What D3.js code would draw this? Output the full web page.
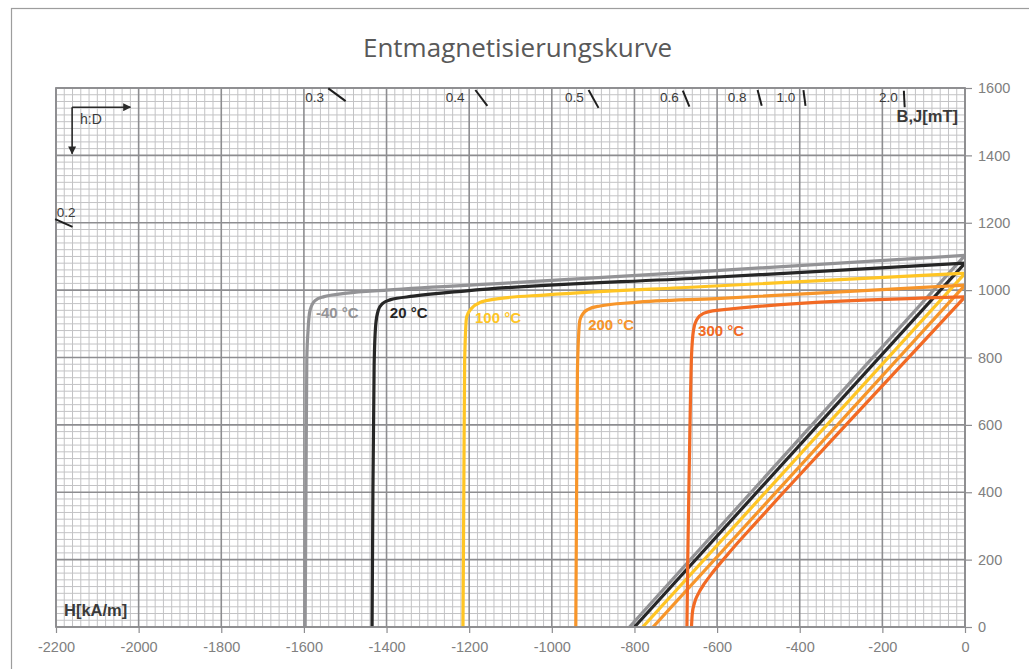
<!DOCTYPE html>
<html>
<head>
<meta charset="utf-8">
<script src="https://cdn.jsdelivr.net/npm/d3@7"></script>
<style>
  html, body { margin: 0; padding: 0; background: #fff; }
  svg { display: block; }
</style>
</head>
<body>
<div id="chart"></div>
<script>
// Temperatures (series)
const temps = ['-40 °C', '20 °C', '100 °C', '200 °C', '300 °C'];

// J-curves, [H kA/m, J mT]
const jM40 = [[-1597, 0], [-1595, 400], [-1593, 793], [-1590, 880], [-1585, 941], [-1573, 969], [-1553, 980], [-1496, 991], [-1400, 1000], [-1093, 1022], [-641, 1055], [0, 1103]];
const j20 = [[-1435, 0], [-1433, 400], [-1430, 780], [-1426, 900], [-1420, 940], [-1410, 960], [-1392, 971], [-1335, 982], [-1206, 998], [-641, 1036], [0, 1080]];
const j100 = [[-1215, 0], [-1213, 400], [-1211, 790], [-1206, 921], [-1194, 946], [-1174, 963], [-1133, 974], [-1012, 986], [-641, 1010], [0, 1050]];
const j200 = [[-942, 0], [-940, 400], [-938, 763], [-932, 911], [-924, 931], [-912, 943], [-883, 953], [-803, 963], [-601, 975], [0, 1015]];
const j300 = [[-673, 0], [-671, 200], [-667, 500], [-662, 802], [-657, 882], [-649, 913], [-633, 931], [-601, 940], [0, 980]];

// B-curves, [H kA/m, B mT]
const bM40 = [[-812, 0], [0, 1103]];
const b20 = [[-800, 0], [0, 1080]];
const b100 = [[-780, 0], [0, 1050]];
const b200 = [[-755, 0], [0, 1015]];
const b300 = [[-662, 0], [-660, 40], [-655, 70], [-645, 100], [-630, 130], [-612, 160], [-585, 200], [-550, 250], [-513, 300], [-439, 400], [-288, 600], [0, 980]];

// temperature label anchors [H, B]
const labelH = [-1571, -1392, -1186, -912, -646];
const labelB = [917, 917, 902, 882, 864];

// permeance marks: label, label anchor [H, B], segment [[H, B], [H, B]]
const permLabels = ['0.2', '0.3', '0.4', '0.5', '0.6', '0.8', '1.0', '2.0'];
const permLabelPos = [[-2198, 1217], [-1597, 1558], [-1257, 1558], [-968, 1558], [-738, 1558], [-574, 1558], [-456, 1558], [-208, 1558]];
const permSegs = [
  [[-2202, 1211], [-2160, 1188]],
  [[-1541, 1599], [-1499, 1561]],
  [[-1185, 1594], [-1156, 1547]],
  [[-911, 1594], [-887, 1541]],
  [[-683, 1592], [-667, 1545]],
  [[-502, 1594], [-492, 1547]],
  [[-391, 1594], [-386, 1547]],
  [[-148, 1592], [-146, 1543]]
];

// axis ticks
const hTicks = d3.range(-2200, 1, 200);
const bTicks = d3.range(0, 1601, 200);

const jCurves = [jM40, j20, j100, j200, j300];
const bCurves = [bM40, b20, b100, b200, b300];
const colors = ['#939396', '#262626', '#ffc524', '#f7952a', '#f26a24'];

const width = 1029, height = 669;
const mLeft = 56, mRight = 965, mTop = 88, mBottom = 627;

const svg = d3.select('#chart')
  .append('svg')
  .attr('width', width)
  .attr('height', height);

// outer frame
svg.append('rect')
  .attr('x', 11.5).attr('y', 8.5)
  .attr('width', 1100).attr('height', 700)
  .attr('fill', 'none')
  .attr('stroke', '#9d9d9d')
  .attr('stroke-width', 1.2);

const x = d3.scaleLinear().domain([-2200, 0]).range([mLeft, mRight]);
const y = d3.scaleLinear().domain([0, 1600]).range([mBottom, mTop]);

// title
svg.append('text')
  .attr('x', (mLeft + mRight) / 2 + 7)
  .attr('y', 57)
  .attr('text-anchor', 'middle')
  .attr('font-family', '"Open Sans", sans-serif')
  .attr('font-size', 26)
  .attr('fill', '#595959')
  .text('Entmagnetisierungskurve');

// grid
const grid = svg.append('g');
grid.append('g').selectAll('line')
  .data(d3.range(-2200, 1, 20).filter(v => v % 200 !== 0))
  .join('line')
  .attr('x1', d => x(d)).attr('x2', d => x(d))
  .attr('y1', mTop).attr('y2', mBottom)
  .attr('stroke', '#c3c3c5').attr('stroke-width', 1);
grid.append('g').selectAll('line')
  .data(d3.range(0, 1601, 20).filter(v => v % 200 !== 0))
  .join('line')
  .attr('y1', d => y(d)).attr('y2', d => y(d))
  .attr('x1', mLeft).attr('x2', mRight)
  .attr('stroke', '#c3c3c5').attr('stroke-width', 1);
grid.append('g').selectAll('line')
  .data(hTicks)
  .join('line')
  .attr('x1', d => x(d)).attr('x2', d => x(d))
  .attr('y1', mTop).attr('y2', mBottom)
  .attr('stroke', '#8d8d90').attr('stroke-width', 1.6);
grid.append('g').selectAll('line')
  .data(bTicks)
  .join('line')
  .attr('y1', d => y(d)).attr('y2', d => y(d))
  .attr('x1', mLeft).attr('x2', mRight)
  .attr('stroke', '#8d8d90').attr('stroke-width', 1.6);

// axes
const xAxis = svg.append('g')
  .attr('transform', `translate(0,${mBottom})`)
  .call(d3.axisBottom(x).tickValues(hTicks).tickSize(6).tickPadding(9).tickFormat(d => String(d)));
const yAxis = svg.append('g')
  .attr('transform', `translate(${mRight},0)`)
  .call(d3.axisRight(y).tickValues(bTicks).tickSize(7).tickPadding(6).tickFormat(d => String(d)));
[xAxis, yAxis].forEach(a => {
  a.select('.domain').remove();
  a.selectAll('line').attr('stroke', '#8d8d90').attr('stroke-width', 1.2);
  a.selectAll('text')
    .attr('fill', '#808080')
    .attr('font-family', '"Liberation Sans", Arial, sans-serif')
    .attr('font-size', 14.5);
});

// clip to plot
svg.append('clipPath').attr('id', 'plot')
  .append('rect')
  .attr('x', mLeft).attr('y', mTop)
  .attr('width', mRight - mLeft).attr('height', mBottom - mTop);

const line = d3.line()
  .x(d => x(d[0]))
  .y(d => y(d[1]))
  .curve(d3.curveMonotoneX);

const curves = svg.append('g').attr('clip-path', 'url(#plot)');
d3.range(temps.length).reverse().forEach(i => {
  curves.append('path')
    .datum(bCurves[i])
    .attr('d', line)
    .attr('fill', 'none')
    .attr('stroke', colors[i])
    .attr('stroke-width', 3.2);
});
d3.range(temps.length).reverse().forEach(i => {
  curves.append('path')
    .datum(jCurves[i])
    .attr('d', line)
    .attr('fill', 'none')
    .attr('stroke', colors[i])
    .attr('stroke-width', 3.2);
});

// plot border
svg.append('rect')
  .attr('x', mLeft).attr('y', mTop)
  .attr('width', mRight - mLeft).attr('height', mBottom - mTop)
  .attr('fill', 'none')
  .attr('stroke', '#8d8d90')
  .attr('stroke-width', 1.8);

// temperature labels
svg.append('g').selectAll('text')
  .data(temps)
  .join('text')
  .attr('x', (d, i) => x(labelH[i]))
  .attr('y', (d, i) => y(labelB[i]))
  .attr('font-family', '"Liberation Sans", Arial, sans-serif')
  .attr('font-weight', 'bold')
  .attr('font-size', 15)
  .attr('fill', (d, i) => colors[i])
  .text(d => d);

// permeance marks
const perm = svg.append('g');
perm.selectAll('line')
  .data(permSegs)
  .join('line')
  .attr('x1', d => x(d[0][0])).attr('y1', d => y(d[0][1]))
  .attr('x2', d => x(d[1][0])).attr('y2', d => y(d[1][1]))
  .attr('stroke', '#1e1e1e')
  .attr('stroke-width', 2);
perm.selectAll('text')
  .data(permLabels)
  .join('text')
  .attr('x', (d, i) => x(permLabelPos[i][0]))
  .attr('y', (d, i) => y(permLabelPos[i][1]))
  .attr('font-family', '"Liberation Sans", Arial, sans-serif')
  .attr('font-size', 13.5)
  .attr('fill', '#3a3a3a')
  .text(d => d);

// axis titles
svg.append('text')
  .attr('x', mRight - 7).attr('y', y(1500))
  .attr('text-anchor', 'end')
  .attr('font-family', '"Liberation Sans", Arial, sans-serif')
  .attr('font-weight', 'bold')
  .attr('font-size', 16.5)
  .attr('fill', '#3a3a3a')
  .text('B,J[mT]');
svg.append('text')
  .attr('x', mLeft + 8).attr('y', y(33))
  .attr('font-family', '"Liberation Sans", Arial, sans-serif')
  .attr('font-weight', 'bold')
  .attr('font-size', 16.5)
  .attr('fill', '#3a3a3a')
  .text('H[kA/m]');

// h:D arrows
const defs = svg.append('defs');
defs.append('marker')
  .attr('id', 'arr')
  .attr('viewBox', '0 0 10 10')
  .attr('refX', 9).attr('refY', 5)
  .attr('markerWidth', 5).attr('markerHeight', 5)
  .attr('markerUnits', 'strokeWidth')
  .attr('orient', 'auto')
  .append('path')
  .attr('d', 'M0,0 L10,5 L0,10 z')
  .attr('fill', '#2a2a2a');
const hx = x(-2161), hy = y(1543);
svg.append('line')
  .attr('x1', hx).attr('y1', hy).attr('x2', x(-2020)).attr('y2', hy)
  .attr('stroke', '#2a2a2a').attr('stroke-width', 1.6)
  .attr('marker-end', 'url(#arr)');
svg.append('line')
  .attr('x1', hx).attr('y1', hy).attr('x2', hx).attr('y2', y(1405))
  .attr('stroke', '#2a2a2a').attr('stroke-width', 1.6)
  .attr('marker-end', 'url(#arr)');
svg.append('text')
  .attr('x', x(-2142)).attr('y', y(1493))
  .attr('font-family', '"Liberation Sans", Arial, sans-serif')
  .attr('font-size', 14)
  .attr('fill', '#3a3a3a')
  .text('h:D');
</script>
</body>
</html>
